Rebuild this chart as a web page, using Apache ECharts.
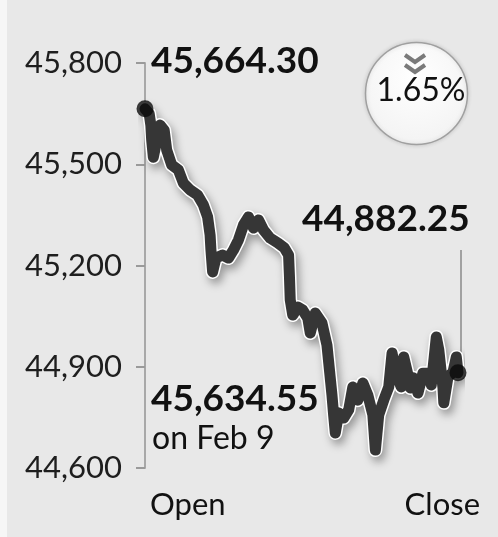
<!DOCTYPE html>
<html>
<head>
<meta charset="utf-8">
<script src="https://cdn.jsdelivr.net/npm/echarts@6/dist/echarts.min.js"></script>
<style>
  html, body { margin: 0; padding: 0; background: #e8e8e8; }
  #chart { width: 498px; height: 537px; }
</style>
</head>
<body>
<div id="chart"></div>
<script>
// Intraday index level, minutes after the open
const minutes = [0, 5, 7, 8, 10, 13, 18, 23, 26, 32, 40, 46, 54, 63, 70, 75, 78, 79, 81, 85,
  93, 100, 106, 112, 118, 124, 130, 136, 142, 150, 159, 167, 172, 173, 174, 177, 183, 189, 195, 198,
  204, 212, 218, 221, 224, 226, 228, 232, 238, 244, 249, 255, 261, 267, 273, 276, 280, 286, 292, 296,
  301, 307, 310, 315, 318, 322, 327, 333, 339, 343, 349, 352, 357, 358, 363, 369, 373, 375];
const levels = [45664.30, 45650, 45616, 45572, 45521, 45557, 45616, 45601, 45542, 45498, 45483, 45444,
  45424, 45409, 45379, 45344, 45290, 45246, 45181, 45222, 45231, 45222, 45246, 45276, 45320, 45344,
  45311, 45335, 45305, 45281, 45267, 45252, 45231, 45172, 45098, 45053, 45077, 45068, 45044, 45000,
  45059, 45030, 44964, 44890, 44816, 44757, 44704, 44763, 44748, 44772, 44840, 44801, 44852, 44816,
  44757, 44653, 44757, 44801, 44840, 44941, 44876, 44840, 44929, 44876, 44837, 44867, 44822, 44881,
  44881, 44846, 44988, 44950, 44837, 44793, 44870, 44884, 44929, 44882.25];
const yTicks = [44600, 44900, 45200, 45500, 45800];
const prevClose = 45634.55;
const prevCloseDate = 'on Feb 9';
const changePct = '1.65%';
const xEnds = ['Open', 'Close'];

const FONT = 'Lato, "Open Sans", sans-serif';
const fmt = (v, d) => v.toLocaleString('en-US', { minimumFractionDigits: d, maximumFractionDigits: d });
const series = minutes.map((m, i) => [m, levels[i]]);
const first = series[0];
const last = series[series.length - 1];

const chart = echarts.init(document.getElementById('chart'), null, { renderer: 'canvas' });

chart.setOption({
  backgroundColor: '#e8e8e8',
  animation: false,
  grid: { left: 145, right: 40, top: 63, bottom: 69 },
  xAxis: {
    type: 'value', min: 0, max: 375, show: false
  },
  yAxis: {
    type: 'value',
    min: yTicks[0], max: yTicks[yTicks.length - 1], interval: 300,
    offset: 8,
    axisLine: { show: true, lineStyle: { color: '#a8a8a8', width: 2 } },
    axisTick: { show: true, length: 9, lineStyle: { color: '#9a9a9a', width: 2 } },
    splitLine: { show: false },
    axisLabel: {
      margin: 15,
      color: '#1e1e1e',
      fontFamily: FONT,
      fontSize: 31,
      formatter: v => fmt(v, 0)
    }
  },
  series: [
    {
      // white halo with soft drop shadow under the price line
      type: 'line', data: series, symbol: 'none', clip: false, silent: true,
      lineStyle: {
        color: '#ffffff', width: 14, join: 'round', cap: 'round',
        shadowColor: 'rgba(0,0,0,0.35)', shadowBlur: 8, shadowOffsetX: 3, shadowOffsetY: 5
      },
      z: 2
    },
    {
      type: 'line', data: series, symbol: 'none', clip: false, silent: true,
      lineStyle: { color: '#363636', width: 11, join: 'round', cap: 'round' },
      z: 3
    },
    {
      type: 'scatter', data: [first, last], symbolSize: 17, clip: false, silent: true,
      itemStyle: { color: '#0a0a0a' },
      z: 4
    }
  ]
});

const endPx = chart.convertToPixel({ gridIndex: 0 }, last);

chart.setOption({
  graphic: [
    // pale strip at the left edge
    { type: 'rect', left: 0, top: 0, shape: { width: 7, height: 537 }, style: { fill: '#f6f6f6' }, silent: true },
    {
      type: 'text', left: 151, top: 43,
      style: { text: fmt(first[1], 2), font: 'bold 37px ' + FONT, fill: '#111' }
    },
    {
      type: 'text', left: 302, top: 201,
      style: { text: fmt(last[1], 2), font: 'bold 37px ' + FONT, fill: '#111' }
    },
    {
      type: 'line',
      shape: { x1: endPx[0] + 3, y1: 250, x2: endPx[0] + 3, y2: endPx[1] - 10 },
      style: { stroke: '#8a8a8a', lineWidth: 1.5 }
    },
    {
      type: 'text', left: 151, top: 381,
      style: { text: fmt(prevClose, 2), font: 'bold 37px ' + FONT, fill: '#111' }
    },
    {
      type: 'text', left: 152, top: 423,
      style: { text: prevCloseDate, font: '32px ' + FONT, fill: '#111' }
    },
    {
      type: 'text', left: 150, top: 489,
      style: { text: xEnds[0], font: '31px ' + FONT, fill: '#111' }
    },
    {
      type: 'text', right: 18, top: 489,
      style: { text: xEnds[1], font: '31px ' + FONT, fill: '#111' }
    },
    // percentage-change badge
    {
      type: 'circle', shape: { cx: 416.5, cy: 93.5, r: 51 },
      style: {
        fill: {
          type: 'radial', x: 0.5, y: 0.35, r: 0.7,
          colorStops: [{ offset: 0, color: '#ffffff' }, { offset: 1, color: '#f2f2f2' }]
        },
        stroke: '#a0a0a0', lineWidth: 1.5,
        shadowColor: 'rgba(0,0,0,0.15)', shadowBlur: 4
      }
    },
    {
      type: 'polyline', shape: { points: [[405, 55], [415, 62], [425, 55]] },
      style: { stroke: '#7a7a7a', lineWidth: 4, fill: null }
    },
    {
      type: 'polyline', shape: { points: [[405, 65], [415, 72], [425, 65]] },
      style: { stroke: '#7a7a7a', lineWidth: 4, fill: null }
    },
    {
      type: 'text', x: 421, y: 91,
      style: { text: changePct, font: '32px ' + FONT, fill: '#111', align: 'center', verticalAlign: 'middle' }
    }
  ]
});
</script>
</body>
</html>
